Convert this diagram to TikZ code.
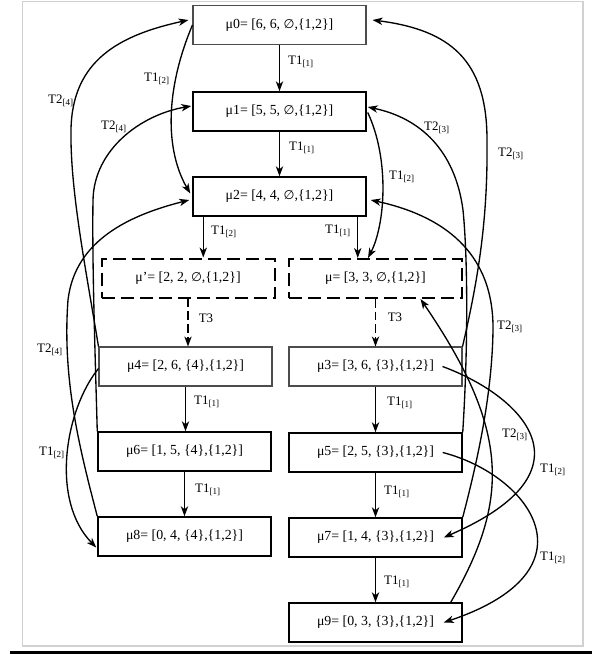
\documentclass[tikz,border=0pt]{standalone}
\usepackage{fontspec}
\setmainfont{Liberation Serif}
\newfontfamily\emptyfont{DejaVu Sans}
\newcommand{\noset}{{\emptyfont\fontsize{9.4}{12}\selectfont ∅}}
\usetikzlibrary{calc}
\usetikzlibrary{arrows.meta}

\tikzset{
  markbox/.style={draw, line width=1.1pt, minimum width=129.75pt, minimum height=29.25pt,
    inner sep=0pt, font=\fontsize{10.4}{12}\selectfont},
  palebox/.style={markbox, draw=black!70, line width=0.8pt},
  ghostbox/.style={markbox, line width=1.5pt, dash pattern=on 9.75pt off 4.5pt},
  tlab/.style={inner sep=0pt, font=\fontsize{9.7}{11}\selectfont},
  fire/.style={->, >={Stealth[length=7.5pt,width=5.5pt,inset=2.2pt]}, line width=1pt},
  ghostfire/.style={fire, dash pattern=on 6.5pt off 3pt},
}

\begin{document}
\begin{tikzpicture}[x=0.75pt, y=-0.75pt]
\useasboundingbox (0,0) rectangle (592,654);
\draw[black!18, line width=1.1pt] (22.5,1.5) rectangle (583,646);
\draw[line width=2.25pt] (10,652) -- (592,652);

% markings
\node[palebox] (m0) at (279.5,25) {μ0= [6, 6, \noset,\{1,2\}]};
\node[markbox] (m1) at (279.5,111.5) {μ1= [5, 5, \noset,\{1,2\}]};
\node[markbox] (m2) at (279.5,196.5) {μ2= [4, 4, \noset,\{1,2\}]};
\node[ghostbox] (mp) at (188,278) {μ’= [2, 2, \noset,\{1,2\}]};
\node[ghostbox] (mu) at (375.5,278.5) {μ= [3, 3, \noset,\{1,2\}]};
\node[palebox] (m4) at (185.5,366.5) {μ4= [2, 6, \{4\},\{1,2\}]};
\node[palebox] (m3) at (375.5,366.5) {μ3= [3, 6, \{3\},\{1,2\}]};
\node[markbox] (m6) at (184.5,451.5) {μ6= [1, 5, \{4\},\{1,2\}]};
\node[markbox] (m5) at (375.5,452.5) {μ5= [2, 5, \{3\},\{1,2\}]};
\node[markbox] (m8) at (184.5,536.5) {μ8= [0, 4, \{4\},\{1,2\}]};
\node[markbox] (m7) at (375.5,537.5) {μ7= [1, 4, \{3\},\{1,2\}]};
\node[markbox] (m9) at (375.5,622.5) {μ9= [0, 3, \{3\},\{1,2\}]};

% straight firings
\draw[fire] (m0) -- (m1);
\draw[fire] (m1) -- (m2);
\coordinate (m2a) at ($(m2.south west)+(11,0)$);
\coordinate (m2b) at ($(m2.south east)+(-9,0)$);
\draw[fire] (m2a) -- (m2a |- mp.north);
\draw[fire] (m2b) -- (m2b |- mu.north);
\draw[ghostfire] (mp.south) -- (mp.south |- m4.north);
\draw[ghostfire] (mu.south) -- (m3.north);
\draw[fire] (m4.south) -- (m4.south |- m6.north);
\draw[fire] (m6) -- (m8);
\draw[fire] (m3) -- (m5);
\draw[fire] (m5) -- (m7);
\draw[fire] (m7) -- (m9);

% T1[2] curves
\draw[fire] (m0.west) .. controls (165,90) and (165,150) .. ($(m2.west)+(-2,-3)$);
\draw[fire] ($(m1.east)+(1,1)$) .. controls (390,160) and (385,225) .. ($(mu.north)+(-7.5,0)$);
\draw[fire] ($(m4.west)+(0,2)$) .. controls (65,410) and (50,500) .. ($(m8.west)+(-1,11)$);
\draw[fire] ($(m3.east)+(-20,0)$) .. controls (520,395) and (600,470) .. ($(m7.east)+(-19,0)$);
\draw[fire] ($(m5.east)+(-20,0)$) .. controls (530,475) and (600,570) .. ($(m9.east)+(-19,0)$);

% T2[4] curves
\draw[fire] (m4.north west) .. controls (86,270) and (70,190) .. (71,130)
  .. controls (72,60) and (120,35) .. ($(m0.west)+(-4,-5)$);
\draw[fire] (m6.north west) .. controls (95,350) and (92,260) .. (93,200)
  .. controls (94,150) and (140,115) .. ($(m1.west)+(-1,-5.5)$);
\draw[fire] (m8.north west) .. controls (80,450) and (62,380) .. (68,300)
  .. controls (75,240) and (130,215) .. ($(m2.west)+(-3,3.5)$);

% T2[3] curves
\draw[fire] (m3.north east) .. controls (478,280) and (488,220) .. (487,140)
  .. controls (487,60) and (450,30) .. ($(m0.east)+(6,-5)$);
\draw[fire] (m5.north east) .. controls (468,350) and (468,260) .. (463,210)
  .. controls (455,150) and (420,118) .. ($(m1.east)+(1,-4.5)$);
\draw[fire] (m7.north east) .. controls (475,470) and (492,400) .. (493,330)
  .. controls (494,250) and (440,215) .. ($(m2.east)+(4,3.5)$);
\draw[fire] ($(m9.north east)+(-12,0)$) .. controls (510,500) and (510,430) .. ($(mu.south)+(45,0)$);

% labels
\node[tlab] (l01) at (301,62) {T1\textsubscript{[1]}};
\node[tlab] (l12) at (302,148) {T1\textsubscript{[1]}};
\node[tlab] (l02) at (157,79) {T1\textsubscript{[2]}};
\node[tlab] (l1u) at (402,177) {T1\textsubscript{[2]}};
\node[tlab] (l2p) at (224,232) {T1\textsubscript{[2]}};
\node[tlab] (l2u) at (338,231) {T1\textsubscript{[1]}};
\node[tlab] (lp4) at (206,318) {T3};
\node[tlab] (lu3) at (395,317) {T3};
\node[tlab] (l40) at (61,101) {T2\textsubscript{[4]}};
\node[tlab] (l61) at (114,127) {T2\textsubscript{[4]}};
\node[tlab] (l82) at (50,350) {T2\textsubscript{[4]}};
\node[tlab] (l51) at (437,128) {T2\textsubscript{[3]}};
\node[tlab] (l30) at (511,154) {T2\textsubscript{[3]}};
\node[tlab] (l72) at (510,327) {T2\textsubscript{[3]}};
\node[tlab] (l9u) at (515,435) {T2\textsubscript{[3]}};
\node[tlab] (l46) at (207,402) {T1\textsubscript{[1]}};
\node[tlab] (l35) at (400,403) {T1\textsubscript{[1]}};
\node[tlab] (l48) at (52,453) {T1\textsubscript{[2]}};
\node[tlab] (l37) at (553,470) {T1\textsubscript{[2]}};
\node[tlab] (l68) at (208,490) {T1\textsubscript{[1]}};
\node[tlab] (l57) at (397,492) {T1\textsubscript{[1]}};
\node[tlab] (l59) at (553,558) {T1\textsubscript{[2]}};
\node[tlab] (l79) at (397,582) {T1\textsubscript{[1]}};
\end{tikzpicture}
\end{document}
